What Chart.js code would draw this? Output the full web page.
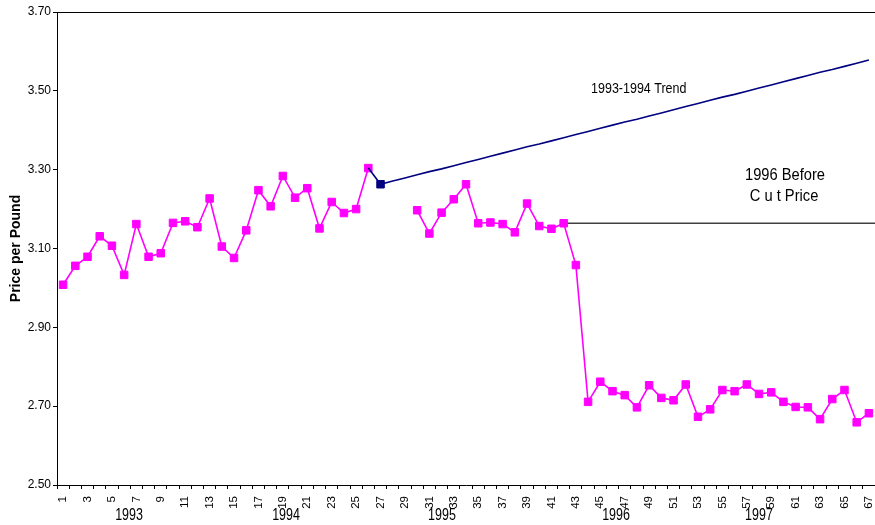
<!DOCTYPE html>
<html>
<head>
<meta charset="utf-8">
<script src="https://cdn.jsdelivr.net/npm/chart.js@4.4.0/dist/chart.umd.min.js"></script>
<style>
  html, body { margin: 0; padding: 0; background: #fff; }
  canvas { display: block; }
</style>
</head>
<body>
<canvas id="c" width="875" height="525"></canvas>
<script>
// Periods (months numbered from Jan 1993)
const periods = ['1','2','3','4','5','6','7','8','9','10',
  '11','12','13','14','15','16','17','18','19','20',
  '21','22','23','24','25','26','27','28','29','30',
  '31','32','33','34','35','36','37','38','39','40',
  '41','42','43','44','45','46','47','48','49','50',
  '51','52','53','54','55','56','57','58','59','60',
  '61','62','63','64','65','66','67'];

// Monthly price per pound (no data for periods 27-29)
const prices = [3.008, 3.056, 3.079, 3.131, 3.107, 3.033, 3.162, 3.079, 3.088, 3.165,
  3.169, 3.154, 3.227, 3.105, 3.076, 3.146, 3.248, 3.207, 3.284, 3.229,
  3.253, 3.151, 3.218, 3.190, 3.200, 3.304, null, null, null, 3.197,
  3.138, 3.191, 3.225, 3.263, 3.164, 3.166, 3.162, 3.141, 3.214, 3.157,
  3.150, 3.164, 3.058, 2.711, 2.762, 2.738, 2.728, 2.697, 2.753, 2.721,
  2.715, 2.755, 2.673, 2.692, 2.741, 2.738, 2.755, 2.731, 2.735, 2.711,
  2.698, 2.697, 2.667, 2.718, 2.741, 2.659, 2.682];

// 1993-1994 trend projected forward from period 26
const trend = [null, null, null, null, null, null, null, null, null, null,
  null, null, null, null, null, null, null, null, null, null,
  null, null, null, null, null, 3.304, 3.263, 3.271, 3.279, 3.287,
  3.295, 3.302, 3.310, 3.318, 3.326, 3.334, 3.342, 3.350, 3.358, 3.365,
  3.373, 3.381, 3.389, 3.397, 3.405, 3.413, 3.421, 3.428, 3.436, 3.444,
  3.452, 3.460, 3.468, 3.476, 3.484, 3.491, 3.499, 3.507, 3.515, 3.523,
  3.531, 3.539, 3.547, 3.554, 3.562, 3.570, 3.578];
const trendMarkerPeriod = '27';

// 1996 price before the cut, held flat from period 42 onward
const cutPrice = 3.164;
const cutFromPeriod = '42';

// Year captions under the period axis
const years = ['1993', '1994', '1995', '1996', '1997'];

const FONT = "'Liberation Sans', Arial, Helvetica, sans-serif";
Chart.defaults.font.family = FONT;
Chart.defaults.color = '#000';

// text drawn slightly taller than wide
function drawText(ctx, text, x, y, size, sy, align) {
  ctx.save();
  ctx.translate(x, y);
  ctx.scale(1, sy);
  ctx.font = size + 'px ' + FONT;
  ctx.fillStyle = '#000';
  ctx.textAlign = align;
  ctx.textBaseline = 'middle';
  ctx.fillText(text, 0, 0);
  ctx.restore();
}

const decorations = {
  id: 'decorations',
  beforeDatasetsDraw(chart) {
    const { ctx, chartArea, scales: { x, y } } = chart;
    // top frame line
    ctx.save();
    ctx.strokeStyle = '#000';
    ctx.lineWidth = 1;
    ctx.beginPath();
    ctx.moveTo(chartArea.left, chartArea.top + 0.5);
    ctx.lineTo(chartArea.right, chartArea.top + 0.5);
    ctx.stroke();
    // flat "before cut" price line
    const yc = y.getPixelForValue(cutPrice);
    ctx.strokeStyle = '#404040';
    ctx.lineWidth = 1.5;
    ctx.beginPath();
    ctx.moveTo(x.getPixelForValue(periods.indexOf(cutFromPeriod)), yc);
    ctx.lineTo(chartArea.right, yc);
    ctx.stroke();
    ctx.restore();
  },
  afterDraw(chart) {
    const { ctx, chartArea, scales: { x, y } } = chart;
    // label positions in period index / price units
    const yearAt = [5.4, 18.26, 31.03, 45.29, 57.0];
    years.forEach((yr, i) => {
      drawText(ctx, yr, x.getPixelForValue(yearAt[i]), chartArea.bottom + 31, 12.5, 1.25, 'center');
    });
    drawText(ctx, '1993-1994 Trend', x.getPixelForValue(43.24), y.getPixelForValue(3.504), 12.5, 1.2, 'left');
    drawText(ctx, '1996 Before', x.getPixelForValue(59.13), y.getPixelForValue(3.286), 14.7, 1.15, 'center');
    drawText(ctx, 'C u t Price', x.getPixelForValue(59.05), y.getPixelForValue(3.233), 14.7, 1.15, 'center');
  }
};

new Chart(document.getElementById('c'), {
  type: 'line',
  data: {
    labels: periods,
    datasets: [
      {
        label: '1993-1994 Trend',
        data: trend,
        borderColor: '#000080',
        backgroundColor: '#000080',
        borderWidth: 1.6,
        pointStyle: 'rect',
        pointRadius: c => periods[c.dataIndex] === trendMarkerPeriod ? 5.3 : 0,
        pointBorderWidth: 1,
        tension: 0,
        spanGaps: false
      },
      {
        label: 'Price per Pound',
        data: prices,
        borderColor: '#FF00FF',
        backgroundColor: '#FF00FF',
        pointBorderColor: '#FF00FF',
        pointBackgroundColor: '#FF00FF',
        borderWidth: 1.6,
        pointStyle: 'rect',
        pointRadius: 5.3,
        pointBorderWidth: 1,
        tension: 0,
        spanGaps: false
      }
    ]
  },
  options: {
    responsive: false,
    animation: false,
    layout: { autoPadding: false, padding: { top: 12, right: 0, bottom: 0, left: 0 } },
    plugins: {
      legend: { display: false },
      tooltip: { enabled: false }
    },
    scales: {
      x: {
        type: 'category',
        offset: true,
        grid: { offset: true, drawOnChartArea: false, tickLength: 4, color: '#000', lineWidth: 1 },
        border: { display: true, color: '#000', width: 1 },
        ticks: {
          autoSkip: false,
          minRotation: 90,
          maxRotation: 90,
          padding: 7,
          color: '#000',
          font: { size: 11.5 },
          callback(v, i) { return i % 2 === 0 ? this.getLabelForValue(v) : ''; }
        },
        afterFit(s) { s.height = 40; s.paddingLeft = 0; s.paddingRight = 0; }
      },
      y: {
        min: 2.5,
        max: 3.7,
        grid: { drawOnChartArea: false, tickLength: 4, color: '#000', lineWidth: 1 },
        border: { display: true, color: '#000', width: 1 },
        ticks: {
          stepSize: 0.2,
          padding: 2,
          color: '#000',
          font: { size: 12 },
          callback: v => Number(v).toFixed(2)
        },
        title: {
          display: true,
          text: 'Price per Pound',
          color: '#000',
          font: { size: 14, weight: 'bold' },
          padding: { top: 8, bottom: 0 }
        },
        afterFit(s) { s.width = 57; s.paddingTop = 0; s.paddingBottom = 0; }
      }
    }
  },
  plugins: [decorations]
});
</script>
</body>
</html>
